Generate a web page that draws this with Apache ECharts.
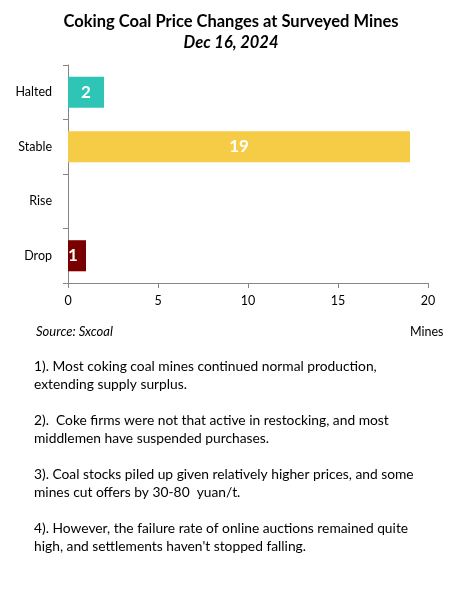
<!DOCTYPE html>
<html>
<head>
<meta charset="utf-8">
<script src="https://cdn.jsdelivr.net/npm/echarts@6/dist/echarts.min.js"></script>
<style>
  html, body { margin: 0; padding: 0; background: #fff; }
  #mainChart { width: 462px; height: 602px; }
</style>
</head>
<body>
<div id="mainChart"></div>
<script>
// 数据
var categories = ['Halted', 'Stable', 'Rise', 'Drop']
var mineCounts = [2, 19, 0, 1]
var barColors = ['#2EC4B6', '#F6CB45', '#F6CB45', '#7A0000']
var xTicks = [0, 5, 10, 15, 20]
var notes = [
  '1). Most coking coal mines continued normal production,\nextending supply surplus.',
  '2).  Coke firms were not that active in restocking, and most\nmiddlemen have suspended purchases.',
  '3). Coal stocks piled up given relatively higher prices, and some\nmines cut offers by 30-80  yuan/t.',
  '4). However, the failure rate of online auctions remained quite\nhigh, and settlements haven\'t stopped falling.'
]

var fontName = 'Lato, "Open Sans", sans-serif'
var axisGrey = '#868686'

var chart = echarts.init(document.getElementById('mainChart'))

let barData = mineCounts.map((v, i) => {
  let item = { value: v, itemStyle: { color: barColors[i] } }
  // 数值太小时标签靠左
  if (v === 1) {
    item.label = { position: 'insideLeft', distance: 0 }
  }
  return item
})

let noteGraphics = notes.map((t, i) => ({
  type: 'text',
  left: 34,
  top: 358 + i * 54,
  style: {
    text: t,
    font: '13.8px ' + fontName,
    fill: '#000',
    lineHeight: 18
  }
}))

var option = {
  animation: false,
  title: {
    text: 'Coking Coal Price Changes at Surveyed Mines',
    subtext: 'Dec 16, 2024',
    left: 'center',
    top: 8,
    itemGap: 4,
    textStyle: { fontFamily: fontName, fontSize: 16.5, fontWeight: 'bold', color: '#000' },
    subtextStyle: { fontFamily: fontName, fontSize: 16.5, fontWeight: 'bold', fontStyle: 'italic', color: '#000' }
  },
  grid: { left: 68, right: 34, top: 65, bottom: 319, containLabel: false },
  xAxis: {
    type: 'value',
    min: xTicks[0],
    max: xTicks[xTicks.length - 1],
    interval: 5,
    axisLine: { show: true, lineStyle: { color: axisGrey } },
    axisTick: { show: true, length: 5, lineStyle: { color: axisGrey } },
    splitLine: { show: false },
    axisLabel: { margin: 11, fontFamily: fontName, fontSize: 12.5, color: '#000' }
  },
  yAxis: {
    type: 'category',
    inverse: true,
    data: categories,
    axisLine: { show: true, lineStyle: { color: axisGrey } },
    axisTick: { show: true, length: 5, lineStyle: { color: axisGrey } },
    axisLabel: { margin: 16, fontFamily: fontName, fontSize: 12.5, color: '#000' }
  },
  series: [
    {
      type: 'bar',
      data: barData,
      barWidth: '57%',
      label: {
        show: true,
        position: 'inside',
        color: '#fff',
        fontFamily: fontName,
        fontSize: 17,
        fontWeight: 'bold',
        formatter: (p) => (p.value === 0 ? '' : p.value)
      }
    }
  ],
  graphic: [
    {
      type: 'text',
      left: 36,
      top: 325,
      style: { text: 'Source: Sxcoal', font: 'italic 13px ' + fontName, fill: '#000' }
    },
    {
      type: 'text',
      left: 410,
      top: 325,
      style: { text: 'Mines', font: '12.5px ' + fontName, fill: '#000' }
    }
  ].concat(noteGraphics)
}

chart.setOption(option)
</script>
</body>
</html>
